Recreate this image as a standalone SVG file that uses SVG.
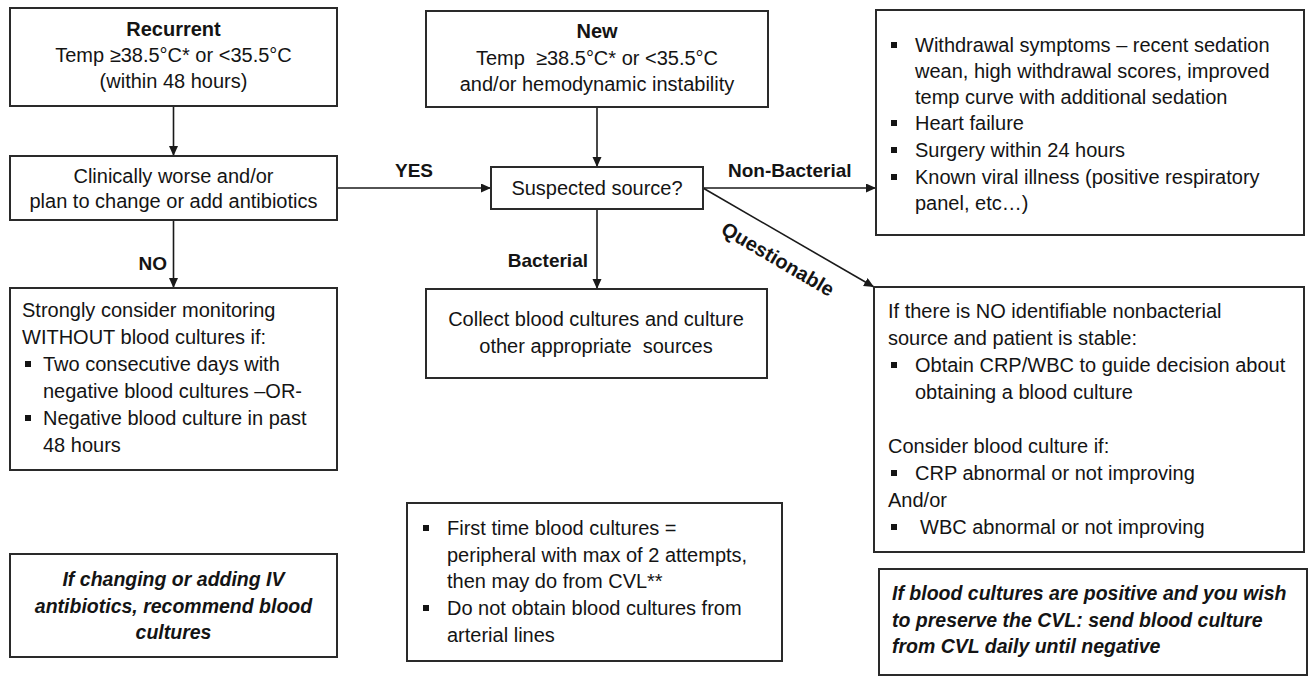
<svg xmlns="http://www.w3.org/2000/svg" width="1309" height="679" viewBox="0 0 1309 679">
  <defs>
    <marker id="arr" markerUnits="userSpaceOnUse" markerWidth="12" markerHeight="10" refX="10" refY="4.5" orient="auto">
      <path d="M0,0 L10,4.5 L0,9 Z" fill="#1a1a1a"/>
    </marker>
    <style>
      .box { fill: #ffffff; stroke: #2a2a2a; stroke-width: 2; }
      .t { font-family: "Liberation Sans", Arial, sans-serif; font-size: 20px; fill: #141414; }
      .c { text-anchor: middle; }
      .b { font-weight: bold; }
      .bi { font-weight: bold; font-style: italic; font-size: 19.5px; }
      .lbl { font-family: "Liberation Sans", Arial, sans-serif; font-weight: bold; font-size: 19px; fill: #141414; }
      .edge { stroke: #1a1a1a; stroke-width: 1.6; fill: none; marker-end: url(#arr); }
      .bul { fill: #141414; }
    </style>
  </defs>
  <rect x="0" y="0" width="1309" height="679" fill="#ffffff"/>

  <g id="connectors">
    <line class="edge" x1="173.5" y1="106" x2="173.5" y2="156"/>
    <line class="edge" x1="173.5" y1="220" x2="173.5" y2="288"/>
    <line class="edge" x1="337" y1="188" x2="491" y2="188"/>
    <line class="edge" x1="597" y1="107" x2="597" y2="167"/>
    <line class="edge" x1="597" y1="209" x2="597" y2="289"/>
    <line class="edge" x1="703" y1="188" x2="876" y2="188"/>
    <line class="edge" x1="703" y1="188" x2="874" y2="287"/>
    <text class="lbl" x="414" y="177" text-anchor="middle">YES</text>
    <text class="lbl" x="167" y="270" text-anchor="end">NO</text>
    <text class="lbl" x="728" y="177">Non-Bacterial</text>
    <text class="lbl" x="588" y="267" text-anchor="end">Bacterial</text>
    <text class="lbl" transform="translate(778,259) rotate(30.4)" x="0" y="7" text-anchor="middle" style="font-size:20px">Questionable</text>
  </g>

  <g id="recurrent">
    <rect class="box" x="10" y="8" width="327" height="98"/>
    <text class="t c b" x="173.5" y="36">Recurrent</text>
    <text class="t c" x="173.5" y="62">Temp ≥38.5°C* or &lt;35.5°C</text>
    <text class="t c" x="173.5" y="88">(within 48 hours)</text>
  </g>

  <g id="clinically-worse">
    <rect class="box" x="10" y="156" width="327" height="64"/>
    <text class="t c" x="173.5" y="183">Clinically worse and/or</text>
    <text class="t c" x="173.5" y="208">plan to change or add antibiotics</text>
  </g>

  <g id="monitoring">
    <rect class="box" x="10" y="288" width="327" height="182"/>
    <text class="t" x="22" y="317">Strongly consider monitoring</text>
    <text class="t" x="22" y="344">WITHOUT blood cultures if:</text>
    <rect class="bul" x="25" y="361" width="6" height="6"/>
    <text class="t" x="43" y="371">Two consecutive days with</text>
    <text class="t" x="43" y="398">negative blood cultures –OR-</text>
    <rect class="bul" x="25" y="415" width="6" height="6"/>
    <text class="t" x="43" y="425">Negative blood culture in past</text>
    <text class="t" x="43" y="452">48 hours</text>
  </g>

  <g id="iv-antibiotics">
    <rect class="box" x="10" y="554" width="327" height="103"/>
    <text class="t c bi" x="173.5" y="586">If changing or adding IV</text>
    <text class="t c bi" x="173.5" y="613">antibiotics, recommend blood</text>
    <text class="t c bi" x="173.5" y="639">cultures</text>
  </g>

  <g id="new">
    <rect class="box" x="426" y="11" width="342" height="96"/>
    <text class="t c b" x="597" y="38">New</text>
    <text class="t c" x="597" y="65" xml:space="preserve">Temp  ≥38.5°C* or &lt;35.5°C</text>
    <text class="t c" x="597" y="91">and/or hemodynamic instability</text>
  </g>

  <g id="suspected-source">
    <rect class="box" x="491" y="167" width="212" height="42"/>
    <text class="t c" x="597" y="195">Suspected source?</text>
  </g>

  <g id="collect">
    <rect class="box" x="426" y="289" width="341" height="89"/>
    <text class="t c" x="596" y="326">Collect blood cultures and culture</text>
    <text class="t c" x="596" y="353" xml:space="preserve">other appropriate  sources</text>
  </g>

  <g id="first-time">
    <rect class="box" x="407" y="503" width="375" height="158"/>
    <rect class="bul" x="423" y="525" width="6" height="6"/>
    <text class="t" x="447" y="535">First time blood cultures =</text>
    <text class="t" x="447" y="562">peripheral with max of 2 attempts,</text>
    <text class="t" x="447" y="588">then may do from CVL**</text>
    <rect class="bul" x="423" y="605" width="6" height="6"/>
    <text class="t" x="447" y="615">Do not obtain blood cultures from</text>
    <text class="t" x="447" y="642">arterial lines</text>
  </g>

  <g id="non-bacterial">
    <rect class="box" x="876" y="10" width="428" height="225"/>
    <rect class="bul" x="891" y="42" width="6" height="6"/>
    <text class="t" x="915" y="52">Withdrawal symptoms – recent sedation</text>
    <text class="t" x="915" y="78">wean, high withdrawal scores, improved</text>
    <text class="t" x="915" y="104">temp curve with additional sedation</text>
    <rect class="bul" x="891" y="120" width="6" height="6"/>
    <text class="t" x="915" y="130">Heart failure</text>
    <rect class="bul" x="891" y="147" width="6" height="6"/>
    <text class="t" x="915" y="157">Surgery within 24 hours</text>
    <rect class="bul" x="891" y="174" width="6" height="6"/>
    <text class="t" x="915" y="184">Known viral illness (positive respiratory</text>
    <text class="t" x="915" y="210">panel, etc…)</text>
  </g>

  <g id="questionable">
    <rect class="box" x="874" y="287" width="430" height="265"/>
    <text class="t" x="888" y="318">If there is NO identifiable nonbacterial</text>
    <text class="t" x="888" y="345">source and patient is stable:</text>
    <rect class="bul" x="891" y="362" width="6" height="6"/>
    <text class="t" x="915" y="372">Obtain CRP/WBC to guide decision about</text>
    <text class="t" x="915" y="399">obtaining a blood culture</text>
    <text class="t" x="888" y="453">Consider blood culture if:</text>
    <rect class="bul" x="891" y="470" width="6" height="6"/>
    <text class="t" x="915" y="480">CRP abnormal or not improving</text>
    <text class="t" x="888" y="507">And/or</text>
    <rect class="bul" x="891" y="524" width="6" height="6"/>
    <text class="t" x="920" y="534">WBC abnormal or not improving</text>
  </g>

  <g id="positive-cultures">
    <rect class="box" x="879" y="569" width="428" height="106"/>
    <text class="t bi" x="892" y="600">If blood cultures are positive and you wish</text>
    <text class="t bi" x="892" y="627">to preserve the CVL: send blood culture</text>
    <text class="t bi" x="892" y="653">from CVL daily until negative</text>
  </g>
</svg>
